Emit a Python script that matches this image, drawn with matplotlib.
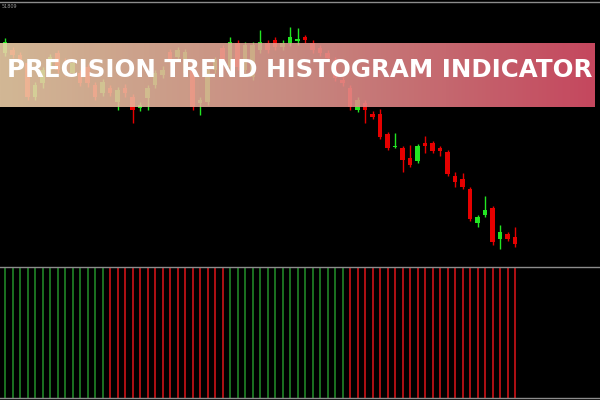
import numpy as np
import matplotlib
matplotlib.use("Agg")
from matplotlib import pyplot as plt
from matplotlib.colors import LinearSegmentedColormap

# candle index (bar number on the chart)
idx = list(range(-1, 69))

# prices (arbitrary price units, higher = up)
opens = [265, 247, 250, 245, 237, 203, 217, 230, 247, 237, 227, 227, 233, 215, 207, 212,
         198, 212, 203, 192, 202, 215, 225, 248, 243, 227, 230, 197, 198, 230, 252,
         233, 257, 230, 223, 250, 257, 260, 253, 257, 259, 263, 257, 252, 247, 240,
         220, 212, 190, 197, 186, 186, 166, 153, 152, 142, 139, 157, 157, 152, 148,
         124, 121, 111, 77, 85, 92, 61, 66, 63]
closes = [253, 258, 245, 237, 203, 215, 230, 243, 230, 227, 237, 217, 217, 203, 218, 207,
          210, 207, 190, 195, 212, 227, 230, 238, 250, 248, 193, 200, 230, 240, 240,
          258, 233, 255, 255, 258, 250, 253, 257, 263, 261, 260, 250, 247, 242, 222,
          217, 193, 200, 190, 183, 163, 152, 154, 140, 135, 154, 154, 149, 149, 126,
          118, 113, 81, 83, 90, 58, 68, 61, 56]
highs = [268, 262, 253, 248, 240, 218, 233, 246, 250, 242, 240, 230, 236, 218, 221, 215,
         213, 216, 206, 198, 215, 230, 234, 251, 253, 251, 233, 203, 233, 243, 255,
         263, 260, 258, 258, 270, 260, 263, 260, 273, 272, 265, 260, 255, 250, 243,
         223, 215, 203, 200, 189, 191, 168, 167, 154, 155, 156, 164, 159, 154, 150,
         128, 127, 113, 85, 104, 94, 75, 68, 73]
lows = [250, 244, 242, 234, 200, 200, 212, 227, 227, 224, 224, 214, 213, 200, 204, 204,
        190, 203, 177, 189, 190, 212, 222, 235, 240, 224, 190, 185, 195, 227, 237,
        230, 230, 227, 220, 247, 247, 250, 250, 254, 255, 257, 247, 244, 239, 219,
        214, 190, 188, 177, 181, 161, 150, 152, 128, 133, 137, 147, 147, 144, 124,
        113, 111, 79, 73, 83, 55, 51, 59, 53]

# trend histogram: 1 = up (green), -1 = down (red)
trend = [1, 1, 1, 1, 1, 1, 1, 1, 1, 1, 1, 1, 1, 1, 1,
         -1, -1, -1, -1, -1, -1, -1, -1, -1, -1, -1, -1, -1, -1, -1, -1,
         1, 1, 1, 1, 1, 1, 1, 1, 1, 1, 1, 1, 1, 1, 1, 1,
         -1, -1, -1, -1, -1, -1, -1, -1, -1, -1, -1, -1, -1, -1, -1, -1,
         -1, -1, -1, -1, -1, -1, -1]

title = "PRECISION TREND HISTOGRAM INDICATOR"
symbol_txt = "51809"

UP = "#22e622"
DOWN = "#e60000"
HUP = "#22922a"
HDOWN = "#e0141a"
GRID = "#8c8c8c"

fig = plt.figure(figsize=(6, 4), dpi=100, facecolor="black")

# price window
ax = fig.add_axes([0, 133 / 400, 1, 267 / 400])
ax.set_facecolor("black")
ax.set_xlim(-0.667, 79.333)
ax.set_ylim(33, 300)
ax.axis("off")

for i, o, c, h, l in zip(idx, opens, closes, highs, lows):
    col = UP if c >= o else DOWN
    ax.vlines(i, l, h, color=col, lw=1)
    b = min(o, c)
    hgt = max(abs(c - o), 1.2)
    ax.bar(i, hgt, bottom=b, width=0.65, color=col, linewidth=0)

ax.axhline(298.5, color=GRID, lw=1)
ax.text(-0.5, 294, symbol_txt, color="#9a9a9a", fontsize=3.5, va="center", ha="left")

# histogram window
hax = fig.add_axes([0, 2 / 400, 1, 131 / 400])
hax.set_facecolor("black")
hax.set_xlim(-0.667, 79.333)
hax.set_ylim(0, 1)
hcols = [HUP if t > 0 else HDOWN for t in trend]
hax.vlines(idx, 0, 1, colors=hcols, lw=1.1)
for s in ["left", "right"]:
    hax.spines[s].set_visible(False)
for s in ["top", "bottom"]:
    hax.spines[s].set_color(GRID)
    hax.spines[s].set_linewidth(1)
hax.set_xticks([])
hax.set_yticks([])

# banner over the chart
bax = fig.add_axes([0, 1 - 107 / 400, 595 / 600, 64 / 400])
cmap = LinearSegmentedColormap.from_list("banner", ["#f0d2ab", "#e49c92", "#e0526c"])
grad = np.linspace(0, 1, 256).reshape(1, -1)
bax.imshow(grad, aspect="auto", cmap=cmap, alpha=0.88, extent=[0, 1, 0, 1])
bax.set_xlim(0, 1)
bax.set_ylim(0, 1)
bax.axis("off")

t = fig.text(300 / 600, 1 - 70 / 400, title, color="white", fontsize=18,
             fontweight="bold", family=["DejaVu Sans"],
             ha="center", va="center")
fig.canvas.draw()
w = t.get_window_extent().width
t.set_fontsize(18 * 584 / w)

fig.savefig("out.png", dpi=100, facecolor="black")
